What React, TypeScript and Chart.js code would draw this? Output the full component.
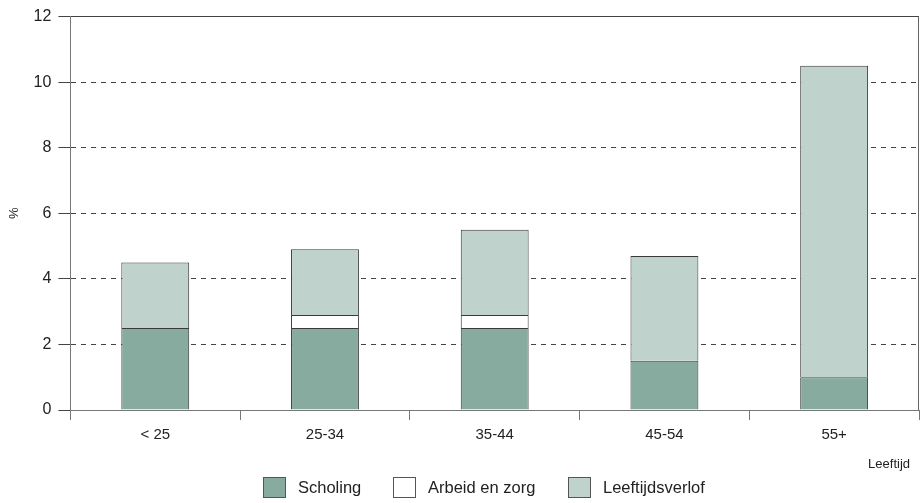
import React, { useEffect, useRef } from "react";
import { Chart, registerables } from "chart.js";

Chart.register(...registerables);

const categories = ["< 25", "25-34", "35-44", "45-54", "55+"];
const scholing = [2.5, 2.5, 2.5, 1.5, 1.0];
const arbeidEnZorg = [null, 0.4, 0.4, null, null];
const leeftijdsverlof = [2.0, 2.0, 2.6, 3.2, 9.5];
const yTicks = [0, 2, 4, 6, 8, 10, 12];

const seriesNames = ["Scholing", "Arbeid en zorg", "Leeftijdsverlof"];
const seriesColors = ["#88ab9f", "#ffffff", "#bfd2cb"];
const legendLefts = [263, 393, 568];
const edgeColor = "#3a3a3a";
const FONT = "'Liberation Sans', Arial, sans-serif";

const framePlugin = {
  id: "frame",
  beforeDatasetsDraw(chart: any) {
    const { ctx, chartArea } = chart;
    ctx.save();
    ctx.strokeStyle = "#666";
    ctx.lineWidth = 1;
    ctx.beginPath();
    ctx.moveTo(chartArea.right - 0.5, chartArea.top);
    ctx.lineTo(chartArea.right - 0.5, chartArea.bottom);
    ctx.stroke();
    ctx.restore();
  },
};

export default function App() {
  const ref = useRef<HTMLCanvasElement>(null);
  useEffect(() => {
    if (!ref.current) return;
    Chart.defaults.font.family = FONT;
    const values = [scholing, arbeidEnZorg, leeftijdsverlof];
    const chart = new Chart(ref.current, {
      type: "bar",
      data: {
        labels: categories,
        datasets: seriesNames.map((name, i) => ({
          label: name,
          data: values[i] as any,
          backgroundColor: seriesColors[i],
          borderColor: edgeColor,
          borderWidth: 1,
          barPercentage: 0.4,
          categoryPercentage: 1,
        })),
      },
      options: {
        animation: false,
        responsive: false,
        layout: { padding: { top: 4, right: 1, left: 7, bottom: 53 } },
        plugins: {
          tooltip: { enabled: false },
          legend: { display: false },
        },
        scales: {
          x: {
            stacked: true,
            offset: true,
            grid: {
              display: true,
              offset: true,
              drawOnChartArea: false,
              drawTicks: true,
              tickLength: 10,
              color: "#777",
            },
            border: { display: true, color: "#777", width: 1 },
            ticks: { color: "#222", font: { size: 15 }, padding: 6 },
          },
          y: {
            stacked: true,
            min: 0,
            max: 12,
            afterBuildTicks: (scale: any) => {
              scale.ticks = yTicks.map((v) => ({ value: v }));
            },
            grid: {
              color: (c: any) => (c.tick && c.tick.value === 0 ? "#777" : "#444"),
              tickColor: "#444",
              tickLength: 12,
              lineWidth: 1,
            },
            border: {
              display: true,
              color: "#777",
              width: 1,
              dash: (c: any) => (c.tick && (c.tick.value === 12 || c.tick.value === 0) ? [] : [5, 5]),
            } as any,
            ticks: { color: "#222", font: { size: 16 }, padding: 7 },
            title: {
              display: true,
              text: "%",
              color: "#222",
              font: { size: 13 },
              padding: { top: 0, bottom: 4 },
            },
          },
        },
      },
      plugins: [framePlugin],
    });
    return () => chart.destroy();
  }, []);
  return (
    <div
      style={{
        position: "fixed",
        left: 0,
        top: 0,
        width: 920,
        height: 503,
        background: "#fff",
        fontFamily: FONT,
        color: "#222",
      }}
    >
      <canvas ref={ref} width={920} height={503} style={{ width: 920, height: 503, display: "block" }} />
      <div
        style={{
          position: "absolute",
          right: 10,
          top: 455,
          fontSize: 13,
          lineHeight: "18px",
        }}
      >
        Leeftijd
      </div>
      {seriesNames.map((name, i) => (
        <React.Fragment key={name}>
          <span
            style={{
              position: "absolute",
              left: legendLefts[i],
              top: 477,
              width: 21,
              height: 19,
              background: seriesColors[i],
              border: "1px solid #555",
            }}
          />
          <span
            style={{
              position: "absolute",
              left: legendLefts[i] + 35,
              top: 478,
              fontSize: 16.5,
              lineHeight: "19px",
              whiteSpace: "nowrap",
            }}
          >
            {name}
          </span>
        </React.Fragment>
      ))}
    </div>
  );
}
